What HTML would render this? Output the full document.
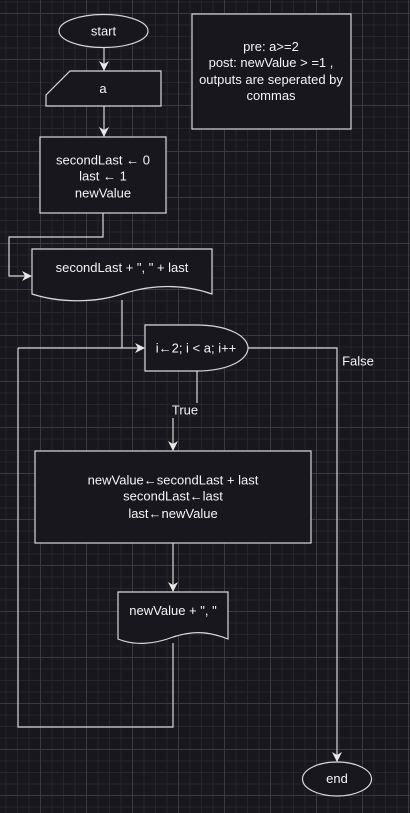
<!DOCTYPE html>
<html><head><style>
html,body{margin:0;padding:0;}
body{width:410px;height:813px;overflow:hidden;background-color:#18171d;
background-image:
linear-gradient(#3a3a40 1px,transparent 1px),
linear-gradient(90deg,#3a3a40 1px,transparent 1px),
linear-gradient(#26252b 1px,transparent 1px),
linear-gradient(90deg,#26252b 1px,transparent 1px);
background-size:46px 46px,46px 46px,11.5px 11.5px,11.5px 11.5px;
background-position:40px 13px,40px 13px,40px 13px,40px 13px;}
svg{position:absolute;left:0;top:0;}
text{font-family:"Liberation Sans",Arial,sans-serif;font-size:13px;fill:#f4f4f4;text-anchor:middle;}
</style></head><body>
<svg width="410" height="813" viewBox="0 0 410 813">
<defs><marker id="ar" markerWidth="10" markerHeight="10" refX="9" refY="5" orient="auto" markerUnits="userSpaceOnUse"><path d="M0,0 L10,5 L0,10 L3,5 Z" fill="#e8e8e8"/></marker></defs>
<g fill="#18171d" stroke="#d8d8d8" stroke-width="1.2">
<ellipse cx="103.5" cy="31" rx="44.5" ry="16.5"/>
<path d="M70,71 L161,71 L161,106 L46,106 L46,95 Z"/>
<rect x="40" y="137" width="126" height="76"/>
<rect x="192" y="14" width="159" height="115"/>
<path d="M32,249 L212,249 L212,294 C180,283 150,285 122,294 C95,303 60,303 32,294 Z"/>
<path d="M145,325 L196,325 C230,325 248,337 248,348 C248,359 230,371 196,371 L145,371 Z"/>
<rect x="35" y="451" width="276" height="92"/>
<path d="M118,592 L228,592 L228,639 C210,632 195,630 173,637 C155,644 135,646 118,639 Z"/>
<ellipse cx="337" cy="779" rx="34.5" ry="17"/>
</g>
<g fill="none" stroke="#d8d8d8" stroke-width="1.2">
<path d="M104,48 L104,70" marker-end="url(#ar)"/>
<path d="M104,106 L104,136" marker-end="url(#ar)"/>
<path d="M103,213 L103,237 L9,237 L9,276 L31,276" marker-end="url(#ar)"/>
<path d="M122,300 L122,348 L144,348" marker-end="url(#ar)"/>
<path d="M18,348 L122,348"/>
<path d="M248,348 L337,348 L337,761" marker-end="url(#ar)"/>
<path d="M197,371 L197,403"/>
<path d="M173,418 L173,450" marker-end="url(#ar)"/>
<path d="M173,543 L173,591" marker-end="url(#ar)"/>
<path d="M173,643 L173,727 L18,727 L18,348"/>
</g>
<text x="103.5" y="35.5">start</text>
<text x="103" y="93">a</text>
<text x="103" y="164.5">secondLast ← 0</text>
<text x="103" y="180.5">last ← 1</text>
<text x="103" y="197.5">newValue</text>
<text x="271" y="51">pre: a&gt;=2</text>
<text x="271" y="67">post: newValue &gt; =1 ,</text>
<text x="271" y="84">outputs are seperated by</text>
<text x="271" y="100">commas</text>
<text x="122" y="272">secondLast + ", " + last</text>
<text x="196" y="352.5">i←2; i &lt; a; i++</text>
<text x="358" y="365.5">False</text>
<text x="185" y="414.5">True</text>
<text x="173" y="484.5">newValue←secondLast + last</text>
<text x="173" y="500.5">secondLast←last</text>
<text x="173" y="518">last←newValue</text>
<text x="173" y="615">newValue + ", "</text>
<text x="337" y="783">end</text>
</svg>
</body></html>
